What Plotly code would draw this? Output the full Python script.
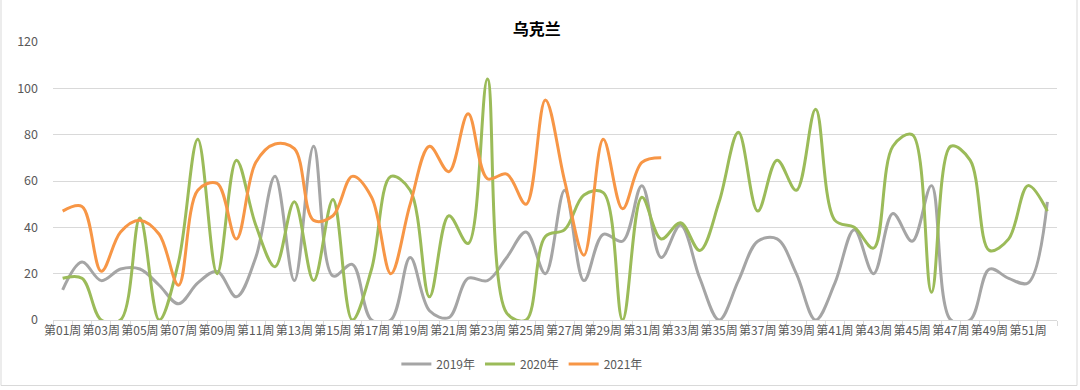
import plotly.graph_objects as go

weeks = [f"第{i:02d}周" for i in range(1, 53)]

y2019 = [13, 25, 17, 22, 22, 15, 7, 16, 21, 10, 27, 62, 17, 75, 19, 24,
         0, 0, 27, 4, 1, 18, 17, 27, 38, 20, 56, 17, 37, 34, 58, 27,
         41, 18, 0, 17, 34, 35, 20, 0, 16, 39, 20, 46, 34, 58, 0, 0,
         22, 18, 16, 51]
y2020 = [18, 18, 0, 0, 44, 0, 25, 78, 20, 69, 41, 23, 51, 17, 52, 0,
         22, 62, 56, 10, 45, 33, 104, 3, 0, 36, 39, 54, 55, 0, 53, 35,
         42, 30, 51, 81, 47, 69, 56, 91, 43, 40, 31, 75, 80, 12, 75, 69,
         30, 35, 58, 47]
y2021 = [47, 49, 21, 38, 43, 37, 15, 56, 59, 35, 68, 76, 74, 43, 45, 62,
         53, 20, 50, 75, 64, 89, 61, 63, 50, 95, 60, 28, 78, 48, 68, 70]

series_names = ["2019年", "2020年", "2021年"]
series_colors = ["#A5A5A5", "#9BBB59", "#F79646"]
y_ticks = [0, 20, 40, 60, 80, 100, 120]

fig = go.Figure()
for name, vals, color in zip(series_names, [y2019, y2020, y2021], series_colors):
    fig.add_trace(go.Scatter(
        x=weeks[:len(vals)], y=vals, name=name, mode="lines",
        line=dict(color=color, width=3, shape="spline", smoothing=1.0),
    ))

font_family = "Noto Sans CJK SC, Noto Sans, sans-serif"
ticktext = [w if i % 2 == 0 else "" for i, w in enumerate(weeks)]

fig.update_layout(
    width=1080, height=390,
    margin=dict(l=53, r=23, t=42, b=68),
    paper_bgcolor="white", plot_bgcolor="white",
    font=dict(family=font_family, color="#595959", size=12),
    title=dict(text="<b>乌克兰</b>", x=0.497, xanchor="center", y=0.925, yanchor="middle",
               font=dict(size=16, color="#000000", family=font_family)),
    showlegend=True,
    legend=dict(orientation="h", x=0.467, xanchor="center", y=-0.158, yanchor="middle",
                font=dict(size=12, color="#595959"), itemwidth=30, tracegroupgap=0),
    xaxis=dict(
        type="category", categoryorder="array", categoryarray=weeks,
        range=[-0.5, 51.5], automargin=False,
        tickmode="array", tickvals=weeks, ticktext=ticktext, tickangle=0,
        tickson="boundaries", ticks="outside", ticklen=5, tickcolor="#D9D9D9",
        showline=True, linecolor="#D9D9D9", linewidth=1, showgrid=False,
        tickfont=dict(size=12, color="#595959"),
    ),
    yaxis=dict(
        range=[0, 120], tickvals=y_ticks, showgrid=True, gridcolor="#D9D9D9",
        gridwidth=1, zeroline=False, showline=False, ticks="", automargin=False,
        ticklabelstandoff=14,
        tickfont=dict(size=12.5, color="#595959"),
    ),
    shapes=[dict(type="rect", xref="paper", yref="paper",
                 x0=(1 - 53) / 1004, x1=(1077 - 53) / 1004,
                 y0=(322 - 388) / 280, y1=(322 + 5) / 280,
                 line=dict(color="#D9D9D9", width=1), layer="below")],
)

fig.write_html(
    "out.html",
    config={"displayModeBar": False},
    post_script="document.body.style.margin='0';document.body.style.overflow='hidden';",
)
